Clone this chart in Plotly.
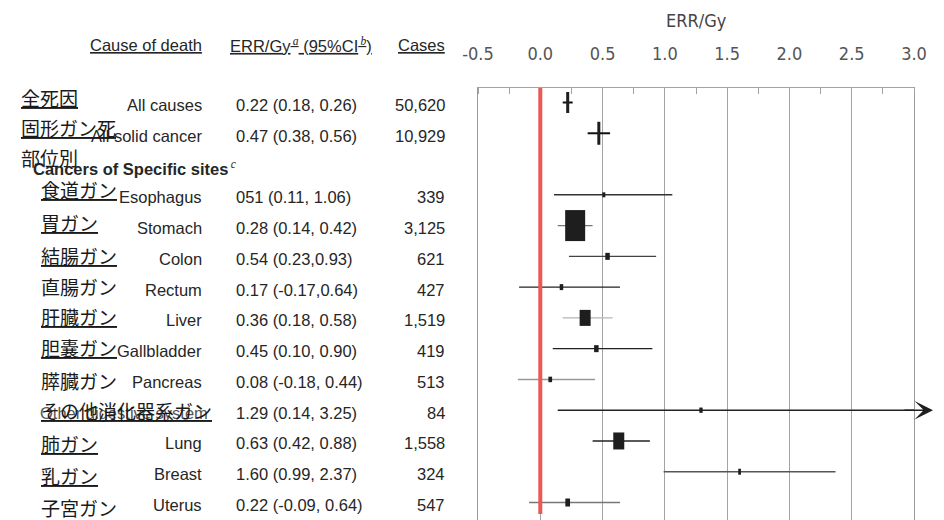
import plotly.graph_objects as go

# ---------------- data ----------------
causes_en = ["All causes", "All solid cancer", "Esophagus", "Stomach", "Colon", "Rectum",
             "Liver", "Gallbladder", "Pancreas", "Other digestive system", "Lung", "Breast", "Uterus"]
causes_jp = ["全死因", "固形ガン死", "食道ガン", "胃ガン", "結腸ガン", "直腸ガン",
             "肝臓ガン", "胆嚢ガン", "膵臓ガン", "その他消化器系ガン", "肺ガン", "乳ガン", "子宮ガン"]
heading_en = "Cancers of Specific sites"
heading_jp = "部位別"
err = [0.22, 0.47, 0.51, 0.28, 0.54, 0.17, 0.36, 0.45, 0.08, 1.29, 0.63, 1.60, 0.22]
ci_lo = [0.18, 0.38, 0.11, 0.14, 0.23, -0.17, 0.18, 0.10, -0.18, 0.14, 0.42, 0.99, -0.09]
ci_hi = [0.26, 0.56, 1.06, 0.42, 0.93, 0.64, 0.58, 0.90, 0.44, 3.25, 0.88, 2.37, 0.64]
err_text = ["0.22 (0.18, 0.26)", "0.47 (0.38, 0.56)", "051 (0.11, 1.06)", "0.28 (0.14, 0.42)",
            "0.54 (0.23,0.93)", "0.17 (-0.17,0.64)", "0.36 (0.18, 0.58)", "0.45 (0.10, 0.90)",
            "0.08 (-0.18, 0.44)", "1.29 (0.14, 3.25)", "0.63 (0.42, 0.88)", "1.60 (0.99, 2.37)",
            "0.22 (-0.09, 0.64)"]
cases = [50620, 10929, 339, 3125, 621, 427, 1519, 419, 513, 84, 1558, 324, 547]
x_tick_vals = [-0.5, 0.0, 0.5, 1.0, 1.5, 2.0, 2.5, 3.0]
x_tick_text = ["-0.5", "0.0", "0.5", "1.0", "1.5", "2.0", "2.5", "3.0"]
axis_title = "ERR/Gy"

# ---------------- layout / style ----------------
W, H = 944, 520
PLOT_L, PLOT_R, PLOT_T = 478, 914, 88
ROW0_PX, ROW_PX = 102.5, 30.77
X_MIN, X_MAX = -0.5, 3.0
rows = [0, 1, 3, 4, 5, 6, 7, 8, 9, 10, 11, 12, 13]
heading_row = 2
y_top = (PLOT_T - ROW0_PX) / ROW_PX
y_bot = (H - ROW0_PX) / ROW_PX

box_w = [3, 3, 3, 20, 4.5, 3.5, 11, 4.5, 3.7, 3.3, 11, 2.7, 4.7]
box_h = [21, 23, 5, 31, 7, 6, 16, 7, 5.5, 5.3, 17, 6, 8]
whisk_col = ['#111', '#111', '#333', '#777', '#444', '#222', '#b5b5b5', '#222',
             '#999', '#222', '#222', '#555', '#777']
whisk_w = [2, 2, 1.4, 1.4, 1.4, 1.4, 1.4, 1.4, 1.4, 1.4, 1.4, 1.4, 1.4]

# Japanese label positions (pixels) : order = jp labels with heading inserted at index 2
jp_all = causes_jp[:2] + [heading_jp] + causes_jp[2:]
jp_x_px = [20, 20, 20] + [40] * 11
jp_y_px = [97, 127.5, 157.5, 189, 222, 255, 286, 316, 347, 380, 410, 443, 475, 507]
jp_underline = [True, True, False, True, True, True, False, True, True, False, True, True, True, False]

TXT = "Liberation Sans, Arial, sans-serif"
NARROW = "Liberation Sans Narrow, DejaVu Sans Condensed, Arial Narrow, sans-serif"
JP = "Noto Sans CJK JP, sans-serif"
TXT_COL = "#262626"
SERIF_SUP = "<sup><span style='font-family:Liberation Serif'><i>{}</i></span></sup>"

fig = go.Figure()

for i, r in enumerate(rows):
    fig.add_trace(go.Scatter(
        x=[ci_lo[i], ci_hi[i]], y=[r, r], mode="lines",
        line=dict(color=whisk_col[i], width=whisk_w[i]),
        hoverinfo="skip", showlegend=False))
    hh = box_h[i] / 2 / ROW_PX
    fig.add_trace(go.Scatter(
        x=[err[i], err[i]], y=[r - hh, r + hh], mode="lines",
        line=dict(color="#1e1e1e", width=box_w[i]),
        hoverinfo="skip", showlegend=False))


def txt_ann(text, xpx, ypx, xanchor, family=TXT, size=16.5, color=TXT_COL):
    return dict(text=text, x=xpx / W, y=1 - ypx / H, xanchor=xanchor, yanchor="middle",
                xref="paper", yref="paper", showarrow=False, borderpad=0,
                font=dict(family=family, size=size, color=color))


ann = []
# header
HDR_Y = 45
ann.append(txt_ann("<u>Cause of death</u>", 203, HDR_Y, "right"))
ann.append(txt_ann("<u>ERR/Gy" + SERIF_SUP.format("&#8201;a") + " (95%CI" + SERIF_SUP.format("&#8201;b") + ")</u>",
                   229, HDR_Y, "left"))
ann.append(txt_ann("<u>Cases</u>", 446, HDR_Y, "right"))

# rows text
for i, r in enumerate(rows):
    ry = ROW0_PX + r * ROW_PX + 2.5
    is_other = causes_en[i].startswith("Other")
    ann.append(txt_ann(causes_en[i], 209 if is_other else 203, ry, "right",
                       color="#555" if is_other else TXT_COL))
    ann.append(txt_ann(err_text[i], 235, ry, "left"))
    ann.append(txt_ann(f"{cases[i]:,}", 446, ry, "right"))

# heading
ann.append(txt_ann(f"<b>{heading_en}</b>" + SERIF_SUP.format("&#8201;c"),
                   32, ROW0_PX + heading_row * ROW_PX + 4, "left"))

# Japanese labels
for k, t in enumerate(jp_all):
    txt = f"<u>{t}</u>" if jp_underline[k] else t
    ann.append(txt_ann(txt, jp_x_px[k], jp_y_px[k], "left", family=JP, size=19, color="#1a1a1a"))

# axis title
ann.append(txt_ann(axis_title, (PLOT_L + PLOT_R) / 2, 21, "center", family=NARROW, size=18, color="#444"))

# arrow for truncated CI
oi = causes_en.index("Other digestive system")
ann.append(dict(text="", x=(PLOT_R + 19) / W, y=rows[oi], xref="paper", yref="y",
                ax=-30, ay=0, showarrow=True, arrowhead=3, arrowsize=2.2, arrowwidth=1.4,
                arrowcolor="#1e1e1e"))

fig.update_layout(
    width=W, height=H, margin=dict(l=0, r=0, t=0, b=0),
    paper_bgcolor="white", plot_bgcolor="white", showlegend=False,
    annotations=ann,
    shapes=[dict(type="line", xref="x", yref="paper", x0=0, x1=0,
                 y0=(H - 514) / H, y1=1 - PLOT_T / H, layer="above",
                 line=dict(color="#ea5a55", width=4))],
    xaxis=dict(domain=[PLOT_L / W, PLOT_R / W], range=[X_MIN, X_MAX], side="top",
               tickvals=x_tick_vals, ticktext=x_tick_text, showgrid=True,
               gridcolor="#a3a3a3", gridwidth=1, zeroline=False, showline=True,
               linecolor="#a3a3a3", linewidth=1, ticks="", ticklabelstandoff=20,
               tickfont=dict(family=NARROW, size=18, color="#555"),
               minor=dict(dtick=0.25, tick0=0, ticks="inside", ticklen=6,
                          tickcolor="#a3a3a3", tickwidth=1, showgrid=False),
               fixedrange=True, automargin=False),
    yaxis=dict(domain=[0, 1 - PLOT_T / H], range=[y_bot, y_top], showgrid=False,
               zeroline=False, showticklabels=False, showline=True, mirror=True,
               linecolor="#9a9a9a", linewidth=1.3, ticks="", fixedrange=True, automargin=False),
)

fig.write_html("out.html", config={"displayModeBar": False})
